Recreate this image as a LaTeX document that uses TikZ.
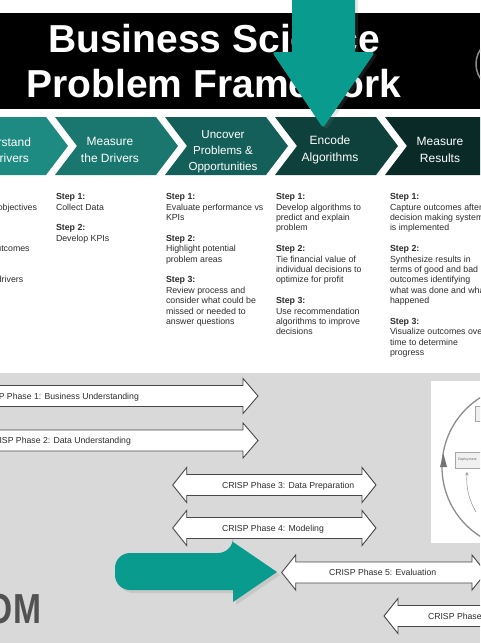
\documentclass[tikz,border=0pt]{standalone}
\usepackage{fontspec}
\setmainfont{Liberation Sans}
\usetikzlibrary{positioning,shadows}

\definecolor{chevA}{RGB}{29,139,129}
\definecolor{chevB}{RGB}{25,119,111}
\definecolor{chevC}{RGB}{20,95,89}
\definecolor{chevD}{RGB}{14,64,60}
\definecolor{chevE}{RGB}{10,42,40}
\definecolor{pointer}{RGB}{8,155,142}
\definecolor{slidegray}{RGB}{217,217,217}
\definecolor{inkgray}{RGB}{45,45,45}

% CRISP phase arrows (left tip x, right tip x, centre y)
\newcommand{\twophase}[3]{%
  \filldraw[phase] (#1,#3) -- ({#1+14},{#3-17.5}) -- ({#1+14},{#3-10.5})
    -- ({#2-14},{#3-10.5}) -- ({#2-14},{#3-17.5}) -- (#2,#3)
    -- ({#2-14},{#3+17.5}) -- ({#2-14},{#3+10.5}) -- ({#1+14},{#3+10.5})
    -- ({#1+14},{#3+17.5}) -- cycle;}
\newcommand{\rightphase}[3]{%
  \filldraw[phase] (#1,{#3-10.5}) -- ({#2-15},{#3-10.5}) -- ({#2-15},{#3-17.5})
    -- (#2,#3) -- ({#2-15},{#3+17.5}) -- ({#2-15},{#3+10.5}) -- (#1,{#3+10.5}) -- cycle;}

\begin{document}
\begin{tikzpicture}[
    x=1pt, y=-1pt,
    every node/.style={inner sep=0pt, outer sep=0pt},
    title/.style={font=\fontsize{39}{45}\selectfont\bfseries, text=white, anchor=base},
    chevlabel/.style={font=\fontsize{12}{16.5}\selectfont, text=white, align=center},
    steps/.style={font=\fontsize{8.8}{10.4}\selectfont, text=inkgray, align=left, anchor=north west},
    phase/.style={fill=white, draw=black!72, line width=0.9pt},
    phaselabel/.style={font=\fontsize{8.7}{10}\selectfont, text=inkgray, anchor=base west},
    minibox/.style={fill=black!6, draw=black!35, line width=0.5pt}
  ]
    \clip (0,0) rectangle (480,643);
    \fill[white] (0,0) rectangle (480,643);

    % Title band
    \fill[black] (0,13) rectangle (480,109);
    \draw[black!45, line width=1.5pt] (502,64) circle (26pt);
    \node[title] (title1) at (214,52) {Business Science};
    \node[title] (title2) at (214,97) {Problem Framework};

    % Process chevrons
    \foreach \l/\r/\c in {-60/46/chevA, 55/156/chevB, 165/266/chevC, 275/376/chevD, 385/520/chevE}
      \fill[\c] (\l,117) -- (\r,117) -- ({\r+22},146) -- (\r,175) -- (\l,175) -- ({\l+22},146) -- cycle;

    \node[chevlabel] (understand) at (0,150) {Understand\\the Drivers};
    \node[chevlabel] (measure) at (110,150) {Measure\\the Drivers};
    \node[chevlabel, font=\fontsize{11.6}{16}\selectfont] (uncover) at (223,152) {Uncover\\Problems \&\\Opportunities};
    \node[chevlabel] (encode) at (330,150) {Encode\\Algorithms};
    \node[chevlabel] (results) at (440,150) {Measure\\Results};

    % Pointer down to the encode step
    \fill[pointer, drop shadow={opacity=0.18, shadow xshift=3pt, shadow yshift=-2pt}]
      (292,-10) -- (292,52) [rounded corners=3] -- (272,52) -- (323,128) -- (375,52)
      [sharp corners] -- (355,52) -- (355,-10) -- cycle;

    % Steps under each chevron
    \node[steps] (col1) at (-54,193.5) {\textbf{Step 1:}\\Investigate if objectives\\are being met\\[10.4pt]
      \textbf{Step 2:}\\Synthesize outcomes\\[10.4pt]\textbf{Step 3:}\\Hypothesize drivers};
    \node[steps] (col2) at (56,193.5) {\textbf{Step 1:}\\Collect Data\\[10.4pt]\textbf{Step 2:}\\Develop KPIs};
    \node[steps] (col3) at (166,193.5) {\textbf{Step 1:}\\Evaluate performance vs\\KPIs\\[10.4pt]
      \textbf{Step 2:}\\Highlight potential\\problem areas\\[10.4pt]
      \textbf{Step 3:}\\Review process and\\consider what could be\\missed or needed to\\answer questions};
    \node[steps] (col4) at (276,193.5) {\textbf{Step 1:}\\Develop algorithms to\\predict and explain\\problem\\[10.4pt]
      \textbf{Step 2:}\\Tie financial value of\\individual decisions to\\optimize for profit\\[10.4pt]
      \textbf{Step 3:}\\Use recommendation\\algorithms to improve\\decisions};
    \node[steps] (col5) at (390,193.5) {\textbf{Step 1:}\\Capture outcomes after\\decision making system\\is implemented\\[10.4pt]
      \textbf{Step 2:}\\Synthesize results in\\terms of good and bad\\outcomes identifying\\what was done and what\\happened\\[10.4pt]
      \textbf{Step 3:}\\Visualize outcomes over\\time to determine\\progress};

    % Lower slide
    \fill[slidegray] (0,373) rectangle (480,643);

    % CRISP-DM cycle thumbnail
    \fill[white] (431,381) rectangle (480,543);
    \draw[black!45, line width=1.3pt] (524,467) circle (82pt);
    \fill[black!55] (443.5,454) -- (440,467) -- (447,467) -- cycle;
    \node[minibox, minimum width=30pt, minimum height=16pt, anchor=north west] (deploy) at (455,452) {};
    \node[font=\fontsize{3.5}{4}\selectfont, text=black!60, anchor=west] (deploytext) at (458,460) {Deployment};
    \node[minibox, minimum width=12pt, minimum height=15pt, anchor=north west] (busbox) at (475,406) {};
    \draw[black!45, line width=0.5pt, ->, >=stealth] (476,512) .. controls (469,500) and (466,488) .. (467,472);

    % CRISP phase arrows
    \rightphase{-30}{258}{396}
    \rightphase{-30}{258}{440.5}
    \twophase{172.7}{376}{485}
    \twophase{172.7}{376}{528}
    \twophase{281.7}{486}{572.5}
    \twophase{384}{620}{616}

    \node[phaselabel] (phase1) at (-22,399.3) {CRISP Phase 1: Business Understanding};
    \node[phaselabel] (phase2) at (-13,443.8) {CRISP Phase 2: Data Understanding};
    \node[phaselabel] (phase3) at (222,488.2) {CRISP Phase 3: Data Preparation};
    \node[phaselabel] (phase4) at (222,531.2) {CRISP Phase 4: Modeling};
    \node[phaselabel] (phase5) at (329,575.7) {CRISP Phase 5: Evaluation};
    \node[phaselabel] (phase6) at (428,619.2) {CRISP Phase 6: Deployment};

    % Pointer to the evaluation phase
    \fill[pointer, drop shadow={opacity=0.2, shadow xshift=3pt, shadow yshift=-3pt}]
      (233,590) [rounded corners=15] -- (115,590) -- (115,553) -- (233,553)
      [sharp corners] -- (233,542) -- (277,572) -- (233,602) -- cycle;

    \node[font=\fontsize{42}{42}\selectfont\bfseries, text=black!68, anchor=base east,
      xscale=0.8, transform shape] (bigword) at (41,623) {OM};
  \end{tikzpicture}
\end{document}
